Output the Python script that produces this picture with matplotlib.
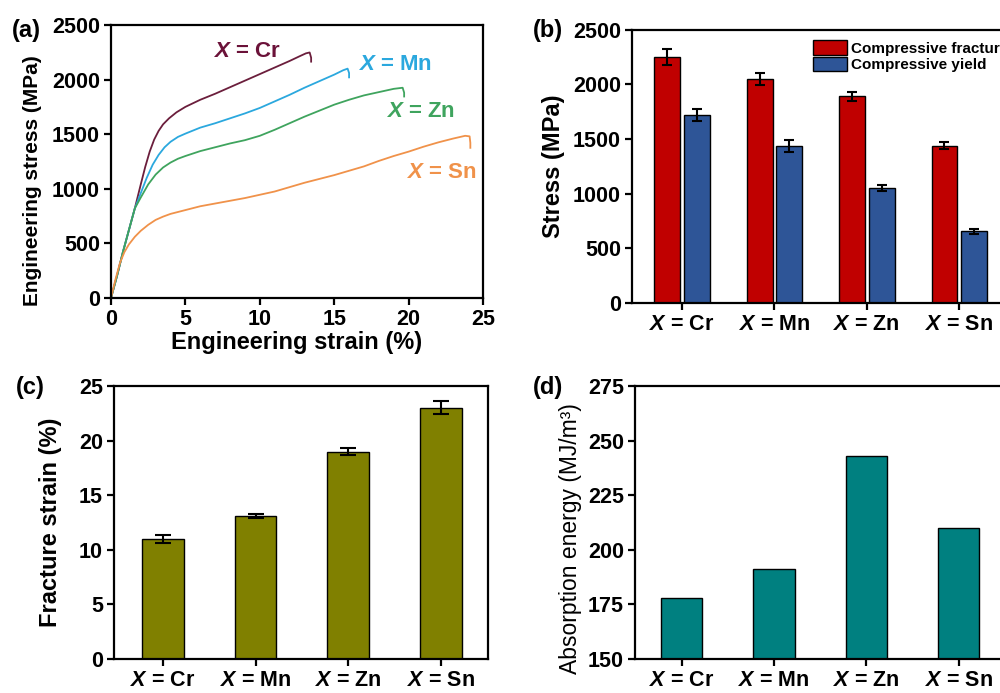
import matplotlib
matplotlib.use('Agg')
import matplotlib.pyplot as plt
import numpy as np

plt.rcParams['font.family'] = ['Liberation Sans', 'DejaVu Sans']
plt.rcParams['font.weight'] = 'bold'
plt.rcParams['mathtext.fontset'] = 'custom'
plt.rcParams['mathtext.it'] = 'Liberation Sans:italic:bold'
plt.rcParams['mathtext.rm'] = 'Liberation Sans:bold'

alloys = [r'$X$ = Cr', r'$X$ = Mn', r'$X$ = Zn', r'$X$ = Sn']

# (a) compressive stress-strain curves
cr_strain = [0, 0.4, 0.8, 1.2, 1.6, 2.0, 2.3, 2.6, 2.9, 3.2, 3.5, 3.9, 4.4, 5.0, 6.0, 7.0,
             8.0, 9.0, 10.0, 11.0, 12.0, 12.7, 13.1, 13.35, 13.45, 13.45]
cr_stress = [0, 200, 420, 620, 820, 1040, 1200, 1340, 1450, 1530, 1590, 1645, 1700, 1750, 1815, 1870,
             1930, 1990, 2050, 2110, 2170, 2215, 2240, 2248, 2200, 2164]
mn_strain = [0, 0.4, 0.8, 1.2, 1.6, 2.0, 2.4, 2.8, 3.2, 3.6, 4.0, 4.5, 5.0, 6.0, 7.0, 8.0,
             9.0, 10.0, 11.0, 12.0, 13.0, 14.0, 15.0, 15.6, 15.9, 16.0, 16.0]
mn_stress = [0, 200, 420, 620, 820, 960, 1100, 1220, 1310, 1380, 1430, 1475, 1505, 1560, 1600, 1645,
             1690, 1740, 1800, 1860, 1925, 1985, 2045, 2085, 2100, 2060, 2020]
zn_strain = [0, 0.4, 0.8, 1.2, 1.6, 2.0, 2.5, 3.0, 3.5, 4.0, 4.5, 5.0, 6.0, 7.0, 8.0, 9.0, 10.0,
             11.0, 12.0, 13.0, 14.0, 15.0, 16.0, 17.0, 18.0, 19.0, 19.6, 19.7, 19.7]
zn_stress = [0, 200, 420, 620, 820, 920, 1040, 1130, 1195, 1240, 1275, 1300, 1345, 1380, 1415, 1445, 1485,
             1540, 1600, 1660, 1715, 1770, 1815, 1855, 1885, 1915, 1925, 1880, 1845]
sn_strain = [0, 0.3, 0.6, 0.9, 1.2, 1.6, 2.0, 2.5, 3.0, 3.5, 4.0, 5.0, 6.0, 7.0, 8.0, 9.0, 10.0,
             11.0, 12.0, 13.0, 14.0, 15.0, 16.0, 17.0, 18.0, 19.0, 20.0, 21.0, 22.0, 23.0, 23.8,
             24.1, 24.15, 24.15]
sn_stress = [0, 170, 320, 420, 490, 560, 615, 670, 715, 745, 770, 805, 840, 865, 890, 915, 945,
             975, 1015, 1055, 1090, 1125, 1165, 1205, 1255, 1300, 1340, 1385, 1425, 1460, 1485,
             1480, 1420, 1375]

# (b) compressive fracture / yield strength
fracture = [2250, 2050, 1890, 1440]
fracture_err = [70, 58, 45, 30]
yield_str = [1722, 1438, 1050, 656]
yield_err = [55, 55, 28, 22]

# (c) fracture strain
frac_strain = [11.0, 13.1, 19.0, 23.0]
frac_strain_err = [0.35, 0.2, 0.35, 0.6]

# (d) absorption energy
energy = [178, 191, 243, 210]

fig = plt.figure(figsize=(10, 6.93), dpi=100)

tick_fs = 15.5
label_fs = 17


def style_axes(ax):
    for s in ax.spines.values():
        s.set_linewidth(1.6)
    ax.tick_params(direction='out', length=5, width=1.6, labelsize=tick_fs, pad=3)
    ax.tick_params(top=False, right=False)


# ---- (a)
ax1 = fig.add_axes([0.111, 0.570, 0.372, 0.394])
ax1.plot(cr_strain, cr_stress, color='#6B1E3C', lw=1.3)
ax1.plot(mn_strain, mn_stress, color='#2BA8DE', lw=1.3)
ax1.plot(zn_strain, zn_stress, color='#3FA45E', lw=1.3)
ax1.plot(sn_strain, sn_stress, color='#F0924A', lw=1.3)
ax1.set_xlim(0, 25)
ax1.set_ylim(0, 2500)
ax1.set_xticks([0, 5, 10, 15, 20, 25])
ax1.set_yticks([0, 500, 1000, 1500, 2000, 2500])
ax1.set_xlabel('Engineering strain (%)', fontsize=label_fs, fontweight='bold', labelpad=1)
ax1.set_ylabel('Engineering stress (MPa)', fontsize=15, fontweight='bold')
ax1.yaxis.set_label_coords(-0.185, 0.43)
style_axes(ax1)
ax1.text(9.1, 2253, alloys[0], color='#6B1239', fontsize=16, ha='center', va='center')
ax1.text(19.1, 2134, alloys[1], color='#2BA8DE', fontsize=16, ha='center', va='center')
ax1.text(20.8, 1703, alloys[2], color='#3FA45E', fontsize=16, ha='center', va='center')
ax1.text(22.2, 1145, alloys[3], color='#F0924A', fontsize=16, ha='center', va='center')

# ---- (b)
x = np.arange(len(alloys))
ax2 = fig.add_axes([0.632, 0.563, 0.379, 0.394])
ax2.bar(x - 0.16, fracture, width=0.28, color='#C00000', edgecolor='black', lw=1,
        yerr=fracture_err, capsize=3.8, error_kw=dict(elinewidth=1.5, capthick=1.5),
        label='Compressive fracture')
ax2.bar(x + 0.16, yield_str, width=0.28, color='#2E5597', edgecolor='black', lw=1,
        yerr=yield_err, capsize=3.8, error_kw=dict(elinewidth=1.5, capthick=1.5),
        label='Compressive yield')
ax2.set_xlim(-0.54, 3.56)
ax2.set_ylim(0, 2500)
ax2.set_xticks(x)
ax2.set_xticklabels(alloys)
ax2.set_yticks([0, 500, 1000, 1500, 2000, 2500])
ax2.set_ylabel('Stress (MPa)', fontsize=label_fs, fontweight='bold', labelpad=6)
style_axes(ax2)
ax2.legend(loc='upper left', bbox_to_anchor=(0.45, 1.0), frameon=False, fontsize=11,
           handlelength=2.2, handleheight=1.1, handletextpad=0.3, labelspacing=0.05,
           borderaxespad=0.3)

# ---- (c)
ax3 = fig.add_axes([0.114, 0.049, 0.374, 0.394])
ax3.bar(x, frac_strain, width=0.45, color='#808000', edgecolor='black', lw=1,
        yerr=frac_strain_err, capsize=6, error_kw=dict(elinewidth=1.5, capthick=1.5))
ax3.set_xlim(-0.53, 3.51)
ax3.set_ylim(0, 25)
ax3.set_xticks(x)
ax3.set_xticklabels(alloys)
ax3.set_yticks([0, 5, 10, 15, 20, 25])
ax3.set_ylabel('Fracture strain (%)', fontsize=label_fs, fontweight='bold', labelpad=12)
style_axes(ax3)

# ---- (d)
ax4 = fig.add_axes([0.635, 0.049, 0.379, 0.394])
ax4.bar(x, energy, width=0.45, color='#008080', edgecolor='black', lw=1)
ax4.set_xlim(-0.505, 3.6)
ax4.set_ylim(150, 275)
ax4.set_xticks(x)
ax4.set_xticklabels(alloys)
ax4.set_yticks([150, 175, 200, 225, 250, 275])
ax4.set_ylabel('Absorption energy (MJ/m³)', fontsize=16.5, fontweight='normal')
ax4.yaxis.set_label_coords(-0.14, 0.44)
style_axes(ax4)

# panel letters
fig.text(0.012, 0.972, '(a)', fontsize=17, va='top', ha='left')
fig.text(0.533, 0.972, '(b)', fontsize=17, va='top', ha='left')
fig.text(0.016, 0.457, '(c)', fontsize=17, va='top', ha='left')
fig.text(0.533, 0.457, '(d)', fontsize=17, va='top', ha='left')

fig.savefig('out.png', dpi=100)
